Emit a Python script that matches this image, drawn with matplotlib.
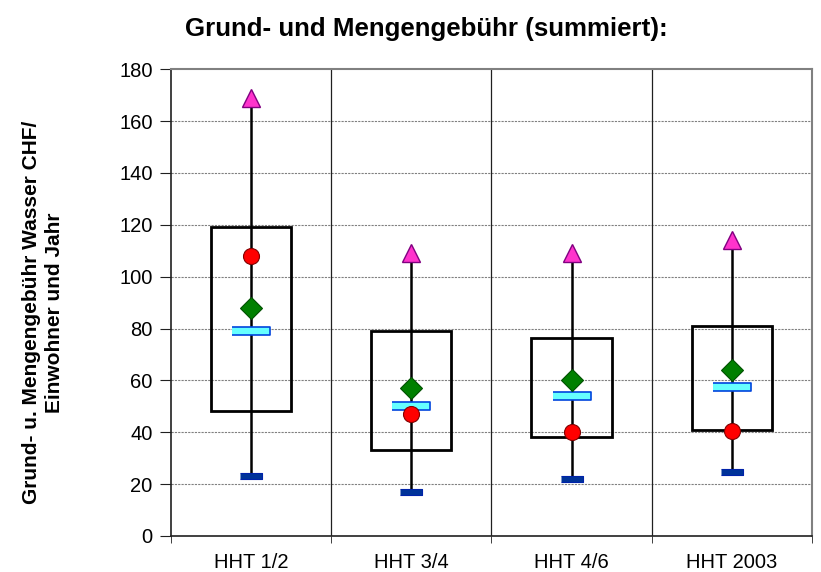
import numpy as np
import matplotlib.pyplot as plt

plt.rcParams['font.family'] = ['Liberation Sans', 'DejaVu Sans']

# Daten aus der Grafik
kategorien = ["HHT 1/2", "HHT 3/4", "HHT 4/6", "HHT 2003"]
maximum = [169, 109, 109, 114]
q3 = [119, 79, 76.5, 81]
q1 = [48, 33, 38, 41]
median = [79, 50, 54, 57.5]
mittelwert = [88, 57, 60, 64]
kreis = [108, 47, 40, 40.5]
minimum = [23, 17, 22, 24.5]

x = np.arange(len(kategorien))

fig = plt.figure(figsize=(8.21, 5.72), dpi=100)
ax = fig.add_axes([0.208, 0.063, 0.781, 0.816])

# Gitter
for y in range(20, 180, 20):
    ax.axhline(y, color='#808080', linestyle=(0, (2, 1)), linewidth=0.8, zorder=0)
for xb in x[1:] - 0.5:
    ax.axvline(xb, color='#202020', linewidth=0.9, zorder=0)

# Whisker und Box
ax.vlines(x, minimum, maximum, color='black', linewidth=1.8, zorder=2)
ax.bar(x, np.array(q3) - np.array(q1), bottom=q1, width=0.5, fill=False,
       edgecolor='black', linewidth=2, zorder=3)

rect_med = [(-2.4, -0.5), (2.4, -0.5), (2.4, 0.5), (-2.4, 0.5)]
rect_min = [(-2.2, -0.5), (2.2, -0.5), (2.2, 0.5), (-2.2, 0.5)]

ax.plot(x, minimum, linestyle='none', marker=rect_min, markersize=16,
        markerfacecolor='#003399', markeredgecolor='#0022aa', markeredgewidth=0.8, zorder=4)
ax.plot(x, median, linestyle='none', marker=rect_med, markersize=28,
        markerfacecolor='#66FFFF', markeredgecolor='#0044DD', markeredgewidth=1.2, zorder=4)
ax.plot(x, mittelwert, linestyle='none', marker='D', markersize=11,
        markerfacecolor='#008000', markeredgecolor='#005000', markeredgewidth=0.8, zorder=5)
ax.plot(x, kreis, linestyle='none', marker='o', markersize=11.5,
        markerfacecolor='#FF0000', markeredgecolor='#800000', markeredgewidth=0.8, zorder=5)
ax.plot(x, maximum, linestyle='none', marker='^', markersize=13,
        markerfacecolor='#FF33CC', markeredgecolor='#800080', markeredgewidth=1, zorder=5)

ax.set_xlim(-0.5, len(kategorien) - 0.5)
ax.set_ylim(0, 180)
ax.set_yticks(range(0, 181, 20))
ax.set_xticks(x)
ax.set_xticklabels(kategorien)
ax.set_xticks(np.arange(-0.5, len(kategorien)), minor=True)
ax.tick_params(axis='x', which='major', length=0, labelsize=14.5, pad=12)
ax.tick_params(axis='x', which='minor', length=5, direction='out', color='#202020')
ax.tick_params(axis='y', length=8, labelsize=14.5, direction='out', color='#202020', pad=5)

for s in ax.spines.values():
    s.set_color('#808080')
    s.set_linewidth(1.5)
ax.spines['left'].set_color('#202020')
ax.spines['bottom'].set_color('#202020')
ax.spines['left'].set_linewidth(1.2)
ax.spines['bottom'].set_linewidth(1.2)

ax.set_ylabel("Grund- u. Mengengebühr Wasser CHF/\nEinwohner und Jahr",
              fontsize=15, fontweight='bold', linespacing=1.3)
ax.yaxis.set_label_coords(-0.166, 0.478)
fig.text(0.5195, 0.937, "Grund- und Mengengebühr (summiert):", ha='center', va='baseline',
         fontsize=18.6, fontweight='bold')

plt.savefig("out.png", dpi=100)
